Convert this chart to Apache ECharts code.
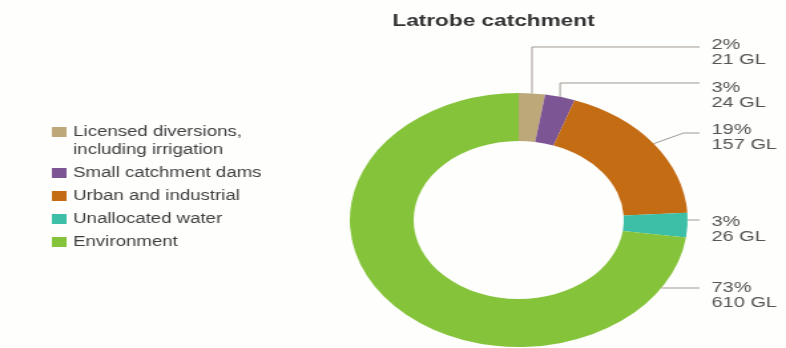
<!DOCTYPE html>
<html>
<head>
<meta charset="utf-8">
<script src="https://cdn.jsdelivr.net/npm/echarts@6/dist/echarts.min.js"></script>
<style>
  html, body { margin: 0; padding: 0; background: #fefefd; overflow: hidden; }
  /* the figure is drawn at its natural proportions and widened horizontally */
  #chart { width: 591px; height: 348px; transform: scaleX(1.33); transform-origin: 0 0; }
</style>
</head>
<body>
<div id="chart"></div>
<script>
// Latrobe catchment water allocation (GL)
const categories = [
  'Licensed diversions,\nincluding irrigation',
  'Small catchment dams',
  'Urban and industrial',
  'Unallocated water',
  'Environment'
];
const volumesGL = [21, 24, 157, 26, 610];
const colors = ['#bda879', '#7c5594', '#c46c14', '#3cbfa6', '#85c43a'];
const titleText = 'Latrobe catchment';

const FONT = '"Liberation Sans", Arial, Helvetica, sans-serif';
const CX = 390, CY = 220, R_IN = 79, R_OUT = 127;

// label placement: first-line centre of each label, height of the leader's horizontal run
const labelTextY = [45, 88, 130, 222, 288];
const leaderY = [47, 83, 133, 220, 288];
const leaderElbowX = [null, null, 514, null, null];
const LABEL_X = 535, LEADER_END_X = 526, LINE_H = 15;

const total = volumesGL.reduce((a, b) => a + b, 0);
function midAngle(i) {
  let before = 0;
  for (let k = 0; k < i; k++) before += volumesGL[k];
  return (before + volumesGL[i] / 2) / total * 360;
}
// point on the outer rim: taken at the slice middle, or where the leader height meets the rim
function anchor(i) {
  const a = midAngle(i) * Math.PI / 180;
  let x = CX + R_OUT * Math.sin(a), y = CY - R_OUT * Math.cos(a);
  if (i >= 3) {
    y = leaderY[i];
    x = CX + Math.sqrt(R_OUT * R_OUT - (y - CY) * (y - CY));
  }
  return [x, y];
}

const chart = echarts.init(document.getElementById('chart'), null, { renderer: 'canvas' });
chart.setOption({
  backgroundColor: '#fefefd',
  animation: false,
  color: colors,
  textStyle: { fontFamily: FONT },
  title: {
    text: titleText,
    left: 295,
    top: 13,
    padding: 0,
    textStyle: { fontFamily: FONT, fontSize: 17, fontWeight: 'bold', color: '#333333' }
  },
  legend: {
    orient: 'vertical',
    left: 39,
    top: 105,
    padding: 0,
    itemGap: 5,
    itemWidth: 11,
    itemHeight: 10,
    icon: 'rect',
    selectedMode: false,
    // a blank leading line keeps the swatch level with the first line of a two-line entry
    formatter: name => (name.indexOf('\n') >= 0 ? '\n' + name : name),
    textStyle: { fontFamily: FONT, fontSize: 14, color: '#3f3f3f', lineHeight: 18 },
    data: categories
  },
  series: [{
    type: 'pie',
    center: [CX, CY],
    radius: [R_IN, R_OUT],
    startAngle: 90,
    clockwise: true,
    avoidLabelOverlap: false,
    percentPrecision: 0,
    data: categories.map((name, i) => ({ name, value: volumesGL[i] })),
    label: {
      show: true,
      position: 'outside',
      formatter: '{d}%\n{c} GL',
      fontFamily: FONT,
      fontSize: 15,
      lineHeight: LINE_H,
      color: '#555555'
    },
    labelLine: {
      show: true,
      length: 10,
      length2: 10,
      lineStyle: { color: '#a09a92', width: 1 }
    },
    labelLayout: function (p) {
      const i = p.dataIndex;
      const a = anchor(i);
      const ly = leaderY[i];
      const ex = leaderElbowX[i] != null ? leaderElbowX[i] : a[0];
      return {
        x: LABEL_X,
        y: labelTextY[i] - LINE_H / 2,
        align: 'left',
        verticalAlign: 'top',
        labelLinePoints: [a, [ex, ly], [LEADER_END_X, ly]]
      };
    },
    emphasis: { disabled: true }
  }]
});
</script>
</body>
</html>
